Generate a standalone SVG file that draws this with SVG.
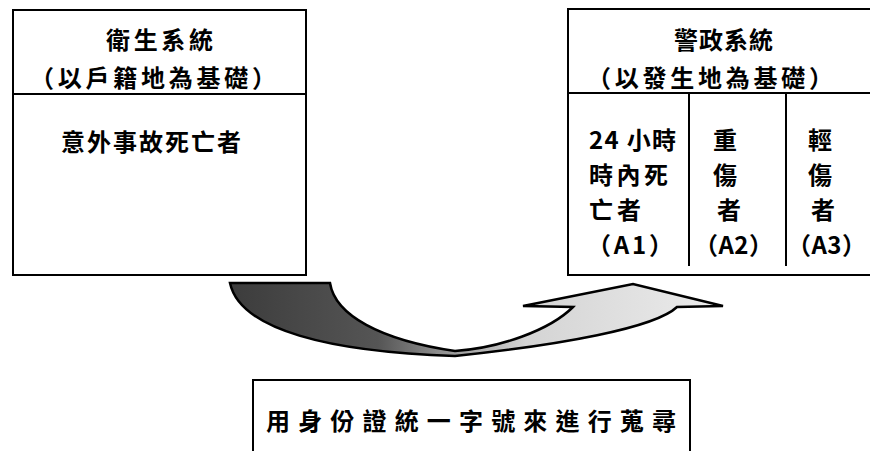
<svg xmlns="http://www.w3.org/2000/svg" width="870" height="451" viewBox="0 0 870 451">
  <style>
    .box { fill: #ffffff; stroke: #000000; stroke-width: 2; }
    .line { stroke: #000000; stroke-width: 2; fill: none; }
    .t { font-family: "Noto Sans CJK TC", "Noto Sans CJK SC", sans-serif; font-size: 24px; font-weight: 700; fill: #000000; }
    .m { text-anchor: middle; }
  </style>
  <defs>
    <linearGradient id="arrowFill" gradientUnits="userSpaceOnUse" x1="230" y1="0" x2="723" y2="0">
      <stop offset="0" stop-color="#3c3c3c"/>
      <stop offset="0.3" stop-color="#555555"/>
      <stop offset="0.45" stop-color="#9a9a9a"/>
      <stop offset="0.6" stop-color="#d4d4d4"/>
      <stop offset="1" stop-color="#ececec"/>
    </linearGradient>
  </defs>

  <g id="health-system">
    <rect class="box" x="13" y="10" width="293" height="265"/>
    <line class="line" x1="13" y1="94" x2="306" y2="94"/>
    <text class="t" x="106" y="49" textLength="107" lengthAdjust="spacing">衛生系統</text>
    <text class="t" x="30" y="87" textLength="246" lengthAdjust="spacing">（以戶籍地為基礎）</text>
    <text class="t" x="61" y="151" textLength="180" lengthAdjust="spacing">意外事故死亡者</text>
  </g>

  <g id="police-system">
    <rect class="box" x="568" y="9" width="320" height="266"/>
    <line class="line" x1="568" y1="93" x2="870" y2="93"/>
    <line class="line" x1="689" y1="93" x2="689" y2="266"/>
    <line class="line" x1="786" y1="93" x2="786" y2="266"/>
    <text class="t" x="674" y="49" textLength="99" lengthAdjust="spacing">警政系統</text>
    <text class="t" x="587" y="87" textLength="246" lengthAdjust="spacing">（以發生地為基礎）</text>
    <g id="a1">
      <text class="t" x="589" y="149" textLength="87" lengthAdjust="spacing">24 小時</text>
      <text class="t" x="589" y="184" textLength="79" lengthAdjust="spacing">時內死</text>
      <text class="t" x="589" y="219" textLength="52" lengthAdjust="spacing">亡者</text>
      <text class="t" x="587" y="254" textLength="86" lengthAdjust="spacing">（A1）</text>
    </g>
    <g id="a2">
      <text class="t m" x="725" y="149">重</text>
      <text class="t m" x="725" y="184">傷</text>
      <text class="t m" x="729" y="219">者</text>
      <text class="t" x="694" y="254" textLength="79" lengthAdjust="spacing">（A2）</text>
    </g>
    <g id="a3">
      <text class="t m" x="820" y="149">輕</text>
      <text class="t m" x="820" y="184">傷</text>
      <text class="t m" x="823" y="219">者</text>
      <text class="t" x="787" y="254" textLength="79" lengthAdjust="spacing">（A3）</text>
    </g>
  </g>

  <rect x="230" y="282" width="88" height="6" fill="#222222"/>

  <g id="connectors">
    <path d="M 230 283 L 330 283 C 335 315, 380 340, 455 351 C 500 348, 550 330, 573 307 L 523 306 L 633 284 L 723 306 L 677 307 C 655 328, 560 345, 455 356 C 330 352, 240 330, 230 283 Z"
          fill="url(#arrowFill)" stroke="#000000" stroke-width="2.5" stroke-linejoin="miter"/>
  </g>

  <g id="id-match">
    <rect class="box" x="253" y="380" width="437" height="90"/>
    <text class="t" x="266" y="430" textLength="410" lengthAdjust="spacing">用身份證統一字號來進行蒐尋</text>
  </g>
</svg>
